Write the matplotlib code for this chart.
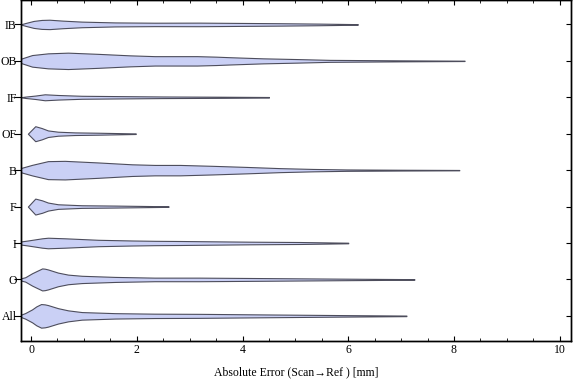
import matplotlib
matplotlib.use("Agg")
import matplotlib.pyplot as plt

# fonts (Times-like look)
plt.rcParams["font.family"] = ["Liberation Serif", "DejaVu Serif"]
plt.rcParams["font.size"] = 8.5

FILL_COLOR = "#cad0f5"
EDGE_COLOR = "#4d4d5c"

# categories from bottom to top
CATEGORIES = ["All", "O", "I", "F", "B", "OF", "IF", "OB", "IB"]

# violin profiles: x position (mm) and half width (in row units)
ALL_X = [-0.2, -0.11, 0.02, 0.1, 0.19, 0.26, 0.32, 0.51, 0.70, 0.96, 1.59, 2.34, 3.19, 4.5, 5.8, 7.1]
ALL_W = [0.027, 0.077, 0.178, 0.26, 0.324, 0.315, 0.296, 0.211, 0.151, 0.104, 0.074, 0.06, 0.055, 0.038, 0.022, 0.008]

O_X = [-0.2, -0.11, 0.02, 0.12, 0.17, 0.21, 0.26, 0.32, 0.51, 0.70, 0.96, 1.59, 2.34, 3.19, 4.5, 5.8, 7.25]
O_W = [0.027, 0.06, 0.17, 0.24, 0.274, 0.302, 0.295, 0.274, 0.187, 0.132, 0.10, 0.069, 0.049, 0.049, 0.036, 0.022, 0.008]

I_X = [-0.2, -0.06, 0.21, 0.32, 0.64, 1.27, 1.91, 2.34, 2.82, 4.14, 5.09, 6.0]
I_W = [0.041, 0.069, 0.129, 0.145, 0.129, 0.088, 0.069, 0.06, 0.055, 0.036, 0.027, 0.008]

F_X = [-0.06, 0.08, 0.21, 0.32, 0.51, 0.96, 1.59, 2.6]
F_W = [0.0, 0.219, 0.17, 0.11, 0.063, 0.036, 0.027, 0.008]

B_X = [-0.2, 0.02, 0.32, 0.64, 1.27, 1.91, 2.34, 2.82, 3.44, 4.08, 4.71, 5.33, 5.97, 7.0, 8.1]
B_W = [0.055, 0.145, 0.247, 0.255, 0.211, 0.16, 0.143, 0.143, 0.118, 0.088, 0.055, 0.033, 0.019, 0.011, 0.005]

OF_X = [-0.06, 0.08, 0.2, 0.32, 0.51, 0.83, 1.27, 1.98]
OF_W = [0.0, 0.206, 0.156, 0.09, 0.055, 0.036, 0.027, 0.008]

IF_X = [-0.2, -0.1, 0.08, 0.26, 0.51, 0.96, 1.59, 2.5, 3.5, 4.5]
IF_W = [0.0, 0.02, 0.047, 0.082, 0.063, 0.041, 0.033, 0.022, 0.016, 0.008]

OB_X = [-0.2, 0.02, 0.32, 0.7, 1.27, 1.87, 2.34, 3.14, 3.5, 3.76, 4.39, 5.03, 5.65, 6.98, 8.2]
OB_W = [0.055, 0.159, 0.206, 0.225, 0.192, 0.151, 0.129, 0.129, 0.115, 0.10, 0.069, 0.049, 0.027, 0.014, 0.005]

IB_X = [-0.2, -0.1, 0.05, 0.2, 0.35, 0.6, 0.96, 1.59, 2.34, 3.19, 3.95, 4.71, 5.46, 6.18]
IB_W = [0.0, 0.041, 0.096, 0.123, 0.129, 0.104, 0.077, 0.055, 0.047, 0.049, 0.041, 0.033, 0.022, 0.008]

PROFILES = [(ALL_X, ALL_W), (O_X, O_W), (I_X, I_W), (F_X, F_W), (B_X, B_W),
            (OF_X, OF_W), (IF_X, IF_W), (OB_X, OB_W), (IB_X, IB_W)]

X_TICKS = [0, 2, 4, 6, 8, 10]


fig = plt.figure(figsize=(5.76, 3.81), dpi=100)
ax = fig.add_axes([0.036, 0.105, 0.955, 0.894])

for i, (xs, ws) in enumerate(PROFILES):
    pos = i + 1
    lower = [pos - w for w in ws]
    upper = [pos + w for w in ws]
    ax.fill_between(xs, lower, upper, facecolor=FILL_COLOR,
                    edgecolor=EDGE_COLOR, linewidth=0.8)

ax.set_xlim(-0.195, 10.21)
ax.set_ylim(0.31, 9.66)

ax.set_xticks(X_TICKS)
ax.set_xticks([t / 2 for t in range(0, 21)], minor=True)
ax.tick_params(axis="x", which="major", direction="in", length=3.6, width=0.8,
               top=True, pad=2.5)
ax.tick_params(axis="x", which="minor", direction="in", length=2.0, width=0.6,
               top=True)

positions = list(range(1, len(CATEGORIES) + 1))
ax.set_yticks(positions)
ax.set_yticklabels(CATEGORIES)
ax.tick_params(axis="y", direction="out", length=5, width=0.8, pad=-2,
               right=False)

# right side ticks point inward
ax2 = ax.twinx()
ax2.set_ylim(ax.get_ylim())
ax2.set_yticks(positions)
ax2.tick_params(axis="y", direction="in", length=3.6, width=0.8, labelright=False)

for a in (ax, ax2):
    for spine in a.spines.values():
        spine.set_linewidth(1.0)
        spine.set_color("black")

ax.set_xlabel("Absolute Error (Scan\u2192Ref ) [mm]", labelpad=7)

fig.savefig("out.png", dpi=100)
